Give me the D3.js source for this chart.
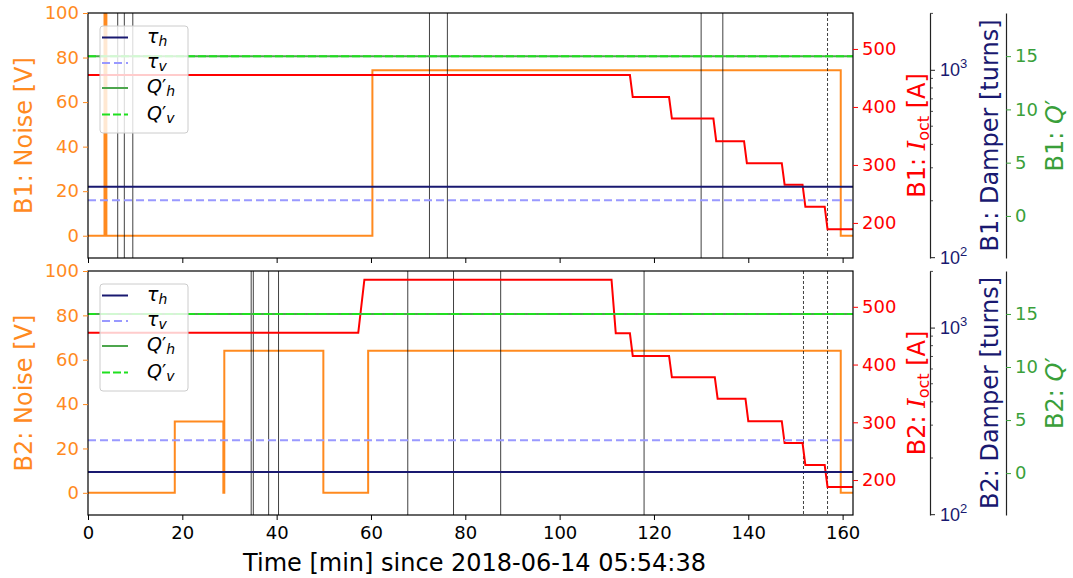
<!DOCTYPE html>
<html><head><meta charset="utf-8">
<script src="https://cdn.jsdelivr.net/npm/d3@7"></script>
<style>body{margin:0;background:#fff;overflow:hidden} svg{font-family:"DejaVu Sans",sans-serif;display:block}</style>
</head><body><svg id="c" width="1073" height="578"></svg>
<script>
// ---------- data ----------
const xDomain = [0, 162.2];
const noiseDomain = [-10, 100];
const ioctDomain = [139.5, 562];
const damperDomain = [99, 2010];
const qDomain = [-3.95, 19.05];
const noiseTicks = [0, 20, 40, 60, 80, 100];
const ioctTicks = [200, 300, 400, 500];
const damperMajor = [100, 1000];
const damperMinor = [200, 300, 400, 500, 600, 700, 800, 900, 2000];
const qTicks = [0, 5, 10, 15];
const timeTicks = [0, 20, 40, 60, 80, 100, 120, 140, 160];
const xLabel = "Time [min] since 2018-06-14 05:54:38";

// Beam 1
const b1NoiseT = [0, 3.5, 3.5, 3.9, 3.9, 60.3, 60.3, 159.6, 159.6, 162.2];
const b1NoiseV = [0, 0, 200, 200, 0, 0, 74.3, 74.3, 0, 0];
const b1IoctT = [0, 114.9, 115.5, 123.2, 123.8, 132.6, 133.2, 139.1, 139.7, 147.1, 147.7, 151.5, 152.1, 156.2, 156.8, 162.2];
const b1IoctV = [455, 455, 417, 417, 380, 380, 341, 341, 303, 303, 266, 266, 228, 228, 189, 189];
const b1TauH = 237.6, b1TauV = 201;
const b1QH = 15, b1QV = 15;
const b1Solid = [6.3, 7.7, 9.5, 72.4, 76.2, 130.0, 134.6];
const b1Dashed = [156.8];

// Beam 2
const b2NoiseT = [0, 18.4, 18.4, 28.7, 28.7, 28.9, 28.9, 49.9, 49.9, 59.4, 59.4, 159.6, 159.6, 162.2];
const b2NoiseV = [0, 0, 32.2, 32.2, 0, 0, 64, 64, 0, 0, 64, 64, 0, 0];
const b2IoctT = [0, 57.3, 58.6, 111.0, 111.9, 114.9, 115.5, 123.2, 123.8, 132.9, 133.5, 139.4, 140.0, 147.1, 147.7, 151.5, 152.1, 156.2, 156.8, 162.2];
const b2IoctV = [455, 455, 547, 547, 454, 454, 415, 415, 378, 378, 341, 341, 302, 302, 264, 264, 226, 226, 188, 188];
const b2TauH = 168.5, b2TauV = 249;
const b2QH = 15, b2QV = 15;
const b2Solid = [34.6, 35.05, 38.3, 40.4, 67.8, 77.5, 87.5, 117.9];
const b2Dashed = [151.7, 156.8];

// ---------- styles ----------
const C = {orange:"#ff8a1f", red:"#ff0000", navy:"#191970", tauV:"#9999ff", qH:"#4da64d", qV:"#1fe01f", qTxt:"#3a9f3a"};
const L = 88, R = 853, xDamp = 930, xQ = 1006;

const panels = [
  {name:"B1", y0:13, y1:258, nT:b1NoiseT, nV:b1NoiseV, iT:b1IoctT, iV:b1IoctV, tauH:b1TauH, tauV:b1TauV, qh:b1QH, qv:b1QV, vs:b1Solid, vd:b1Dashed, last:false},
  {name:"B2", y0:271, y1:515, nT:b2NoiseT, nV:b2NoiseV, iT:b2IoctT, iV:b2IoctV, tauH:b2TauH, tauV:b2TauV, qh:b2QH, qv:b2QV, vs:b2Solid, vd:b2Dashed, last:true}
];

const svg = d3.select("#c");
const x = d3.scaleLinear().domain(xDomain).range([L, R]);

function styleAxis(g, color, fs) {
  g.selectAll(".tick line").attr("stroke", color).attr("stroke-width", 1);
  g.selectAll(".tick text").attr("fill", color).attr("font-size", fs).attr("font-family", "DejaVu Sans");
}

panels.forEach((p, i) => {
  const yN = d3.scaleLinear().domain(noiseDomain).range([p.y1, p.y0]);
  const yI = d3.scaleLinear().domain(ioctDomain).range([p.y1, p.y0]);
  const yD = d3.scaleLog().domain(damperDomain).range([p.y1, p.y0]);
  const yQ = d3.scaleLinear().domain(qDomain).range([p.y1, p.y0]);
  const cy = (p.y0 + p.y1) / 2;

  const clipId = "clip" + i;
  svg.append("clipPath").attr("id", clipId).append("rect")
    .attr("x", L).attr("y", p.y0).attr("width", R - L).attr("height", p.y1 - p.y0);
  const g = svg.append("g").attr("clip-path", `url(#${clipId})`);

  const mk = (ys) => d3.line().x(d => x(d[0])).y(d => ys(d[1]));

  // noise
  g.append("path").datum(d3.zip(p.nT, p.nV)).attr("d", mk(yN))
    .attr("fill", "none").attr("stroke", C.orange).attr("stroke-width", 2);

  // vertical markers
  g.selectAll(".vs").data(p.vs).join("line")
    .attr("x1", d => x(d)).attr("x2", d => x(d)).attr("y1", p.y0).attr("y2", p.y1)
    .attr("stroke", "#000").attr("stroke-opacity", 0.75).attr("stroke-width", 1);
  g.selectAll(".vd").data(p.vd).join("line")
    .attr("x1", d => x(d)).attr("x2", d => x(d)).attr("y1", p.y0).attr("y2", p.y1)
    .attr("stroke", "#000").attr("stroke-opacity", 0.75).attr("stroke-width", 1)
    .attr("stroke-dasharray", "3,2");

  // octupole current
  g.append("path").datum(d3.zip(p.iT, p.iV)).attr("d", mk(yI))
    .attr("fill", "none").attr("stroke", C.red).attr("stroke-width", 2);

  // damper gains
  g.append("line").attr("x1", L).attr("x2", R).attr("y1", yD(p.tauH)).attr("y2", yD(p.tauH))
    .attr("stroke", C.navy).attr("stroke-width", 2);
  g.append("line").attr("x1", L).attr("x2", R).attr("y1", yD(p.tauV)).attr("y2", yD(p.tauV))
    .attr("stroke", C.tauV).attr("stroke-width", 2).attr("stroke-dasharray", "8,4");

  // chromaticity
  g.append("line").attr("x1", L).attr("x2", R).attr("y1", yQ(p.qh)).attr("y2", yQ(p.qh))
    .attr("stroke", C.qH).attr("stroke-width", 2);
  g.append("line").attr("x1", L).attr("x2", R).attr("y1", yQ(p.qv)).attr("y2", yQ(p.qv))
    .attr("stroke", C.qV).attr("stroke-width", 2).attr("stroke-dasharray", "8,3");

  // frame
  svg.append("rect").attr("x", L).attr("y", p.y0).attr("width", R - L).attr("height", p.y1 - p.y0)
    .attr("fill", "none").attr("stroke", "#000").attr("stroke-width", 1.2);

  // left axis
  const ax = svg.append("g").attr("transform", `translate(${L},0)`)
    .call(d3.axisLeft(yN).tickValues(noiseTicks).tickSize(5).tickPadding(4));
  ax.select(".domain").remove();
  styleAxis(ax, C.orange, 18);

  // x axis
  const xa = svg.append("g").attr("transform", `translate(0,${p.y1})`)
    .call(d3.axisBottom(x).tickValues(timeTicks).tickSize(5).tickPadding(6)
      .tickFormat(p.last ? d3.format("d") : ""));
  xa.select(".domain").remove();
  styleAxis(xa, "#000", 18);

  // right: Ioct
  const ai = svg.append("g").attr("transform", `translate(${R},0)`)
    .call(d3.axisRight(yI).tickValues(ioctTicks).tickSize(5).tickPadding(4));
  ai.select(".domain").remove();
  styleAxis(ai, C.red, 18);

  // damper log axis
  const ad = svg.append("g").attr("transform", `translate(${xDamp},0)`)
    .call(d3.axisRight(yD).tickValues(damperMajor).tickSize(5).tickSizeOuter(0).tickPadding(5).tickFormat(""));
  ad.select(".domain").attr("stroke", "#222").attr("stroke-width", 1.2);
  ad.selectAll(".tick line").attr("stroke", "#222");
  ad.selectAll(".minor").data(damperMinor.filter(v => v >= damperDomain[0] && v <= damperDomain[1])).join("line")
    .attr("x1", 0).attr("x2", 3).attr("y1", d => yD(d)).attr("y2", d => yD(d))
    .attr("stroke", "#222").attr("stroke-width", 0.8);
  ad.selectAll(".lbl").data(damperMajor).join("text")
    .attr("x", 10).attr("y", d => yD(d) + 6.5).attr("fill", C.navy).attr("font-size", 18)
    .each(function (d) {
      const t = d3.select(this);
      t.append("tspan").text("10");
      t.append("tspan").attr("dy", -8).attr("font-size", 13).text(String(Math.round(Math.log10(d))));
    });

  // Q' axis
  const aq = svg.append("g").attr("transform", `translate(${xQ},0)`)
    .call(d3.axisRight(yQ).tickValues(qTicks).tickSize(5).tickSizeOuter(0).tickPadding(4));
  aq.select(".domain").attr("stroke", "#222").attr("stroke-width", 1.2);
  styleAxis(aq, C.qTxt, 18);

  // axis labels
  svg.append("text").attr("transform", `translate(32,${cy}) rotate(-90)`).attr("text-anchor", "middle")
    .attr("fill", C.orange).attr("font-size", 24).text(`${p.name}: Noise [V]`);

  const ti = svg.append("text").attr("transform", `translate(925,${cy}) rotate(-90)`).attr("text-anchor", "middle")
    .attr("fill", C.red).attr("font-size", 24);
  ti.append("tspan").text(`${p.name}: `);
  ti.append("tspan").attr("font-family", "DejaVu Serif").attr("font-style", "italic").text("I");
  ti.append("tspan").attr("font-size", 16).attr("dy", 4).text("oct");
  ti.append("tspan").attr("dy", -4).text(" [A]");

  svg.append("text").attr("transform", `translate(998,${cy}) rotate(-90)`).attr("text-anchor", "middle")
    .attr("fill", C.navy).attr("font-size", 24).text(`${p.name}: Damper [turns]`);

  const tq = svg.append("text").attr("transform", `translate(1063,${cy}) rotate(-90)`).attr("text-anchor", "middle")
    .attr("fill", C.qTxt).attr("font-size", 24);
  tq.append("tspan").text(`${p.name}: `);
  tq.append("tspan").attr("font-style", "italic").text("Q");
  tq.append("tspan").text("′");

  // legend
  const lg = svg.append("g").attr("transform", `translate(100,${p.y0 + 13})`);
  lg.append("rect").attr("width", 88).attr("height", 107).attr("rx", 3)
    .attr("fill", "#fff").attr("fill-opacity", 0.8).attr("stroke", "#cccccc").attr("stroke-width", 1);
  const items = [
    {sym:"τ", sub:"h", prime:false, color:C.navy, dash:null},
    {sym:"τ", sub:"v", prime:false, color:C.tauV, dash:"8,4"},
    {sym:"Q", sub:"h", prime:true, color:C.qH, dash:null},
    {sym:"Q", sub:"v", prime:true, color:C.qV, dash:"8,3"}
  ];
  const offs = [11.5, 37, 62, 88.5];
  items.forEach((it, k) => {
    const yy = offs[k];
    const ln = lg.append("line").attr("x1", 2).attr("x2", 28).attr("y1", yy).attr("y2", yy)
      .attr("stroke", it.color).attr("stroke-width", 2);
    if (it.dash) ln.attr("stroke-dasharray", it.dash);
    const t = lg.append("text").attr("x", 47).attr("y", yy + 5).attr("font-size", 19).attr("fill", "#000");
    t.append("tspan").attr("font-style", "italic").text(it.sym);
    if (it.prime) t.append("tspan").text("′");
    t.append("tspan").attr("font-size", 14).attr("dy", 3).attr("font-style", "italic").text(it.sub);
  });
});

// x label
svg.append("text").attr("x", (L + R) / 2 + 4).attr("y", 571).attr("text-anchor", "middle")
  .attr("font-size", 24).attr("fill", "#000").text(xLabel);
</script>
</body></html>
